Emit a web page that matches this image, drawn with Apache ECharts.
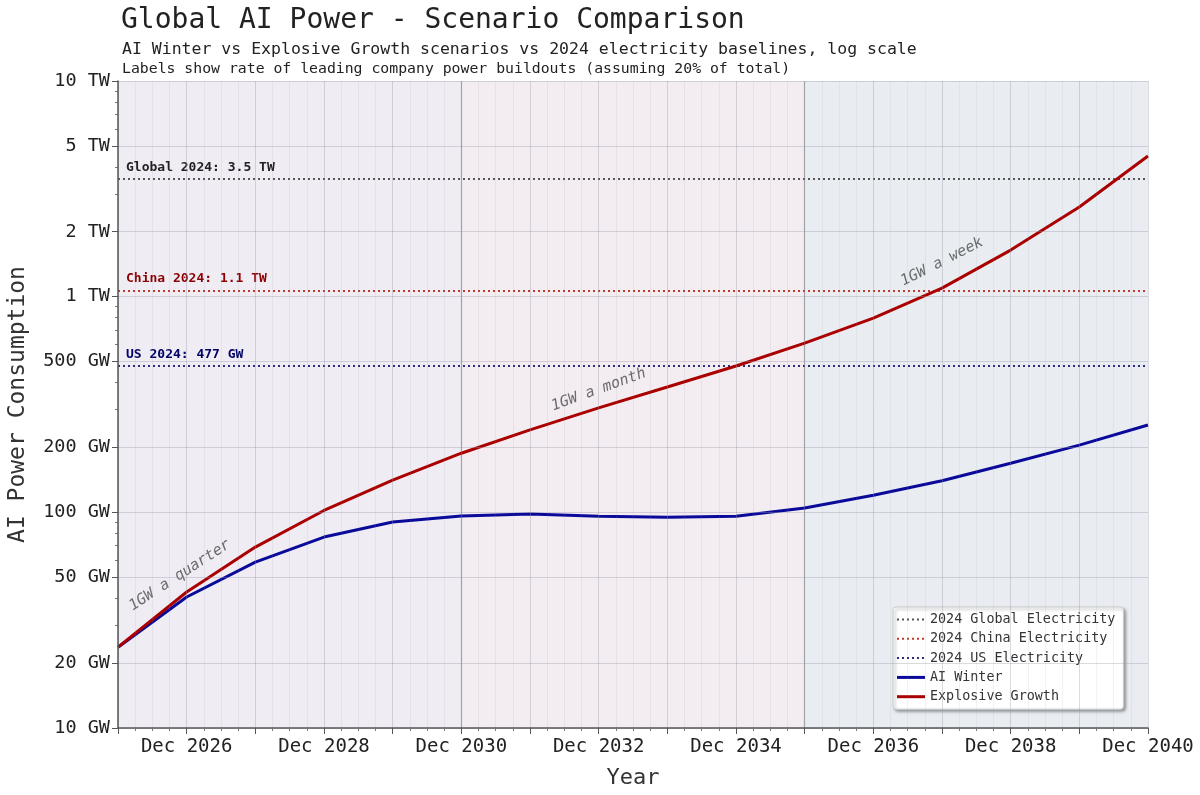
<!DOCTYPE html>
<html>
<head>
<meta charset="utf-8">
<script src="https://cdn.jsdelivr.net/npm/echarts@6/dist/echarts.min.js"></script>
<style>
  html, body { margin: 0; padding: 0; background: #fff; }
  #chart { width: 1200px; height: 795px; }
</style>
</head>
<body>
<div id="chart"></div>
<script>
// data (GW), one point per December
var years = [2025, 2026, 2027, 2028, 2029, 2030, 2031, 2032, 2033, 2034, 2035, 2036, 2037, 2038, 2039, 2040];
var explosive = [23.7, 42.7, 69, 102, 141, 188, 241, 305, 381, 477, 609, 796, 1096, 1644, 2603, 4490];
var aiWinter = [23.7, 40.5, 58.8, 76.8, 90.2, 96.1, 98.2, 96, 95, 96, 104.7, 120, 140, 169, 205, 254];

// 2024 electricity baselines (GW)
var baseNames = ['2024 Global Electricity', '2024 China Electricity', '2024 US Electricity'];
var baseLabels = ['Global 2024: 3.5 TW', 'China 2024: 1.1 TW', 'US 2024: 477 GW'];
var baseValues = [3510, 1070, 477];

// buildout rate labels [year, GW, text, angle]
var rateNotes = [
  [2025.9, 51, '1GW a quarter', 33],
  [2032.0, 370, '1GW a month', 20],
  [2037.0, 1450, '1GW a week', 27]
];

// period shading
var periods = [[2025, 2030], [2030, 2035], [2035, 2040]];
var periodColors = ['#efecf4', '#f3ecf0', '#e9edf2'];
var periodEdges = [2030, 2035];

// ticks
var yMajor = [10, 20, 50, 100, 200, 500, 1000, 2000, 5000, 10000];
var yMinor = [30, 40, 60, 70, 80, 90, 300, 400, 600, 700, 800, 900, 3000, 4000, 6000, 7000, 8000, 9000];
var xLabels = [2026, 2028, 2030, 2032, 2034, 2036, 2038, 2040];

var font = 'DejaVu Sans Mono';
var baseColors = ['#555555', '#c0392b', '#2c2c7a'];
var baseTextColors = ['#222222', '#8b0000', '#000066'];

// legend glyphs: dotted and solid line
var dottedIcon = 'path://M0,0h2v2h-2z M5,0h2v2h-2z M10,0h2v2h-2z M15,0h2v2h-2z M20,0h2v2h-2z M25,0h2v2h-2z M28,0h0v2h0z';
var solidIcon = 'path://M0,0h28v3h-28z';

function zip(xs, ys) {
  return xs.map(function (x, i) { return [x, ys[i]]; });
}
function fmtPower(v) {
  return v >= 1000 ? (v / 1000) + ' TW' : v + ' GW';
}

var chart = echarts.init(document.getElementById('chart'));

var series = [];
// shading + edges on a carrier series
series.push({
  type: 'line', data: [], silent: true,
  markArea: {
    silent: true,
    data: periods.map(function (p, i) {
      return [{ xAxis: p[0], itemStyle: { color: periodColors[i] } }, { xAxis: p[1] }];
    })
  },
  markLine: {
    silent: true, symbol: 'none', label: { show: false },
    lineStyle: { color: '#aaaaaa', width: 1.2, type: 'solid' },
    data: periodEdges.map(function (x) { return { xAxis: x }; })
  },
  z: 1
});

baseNames.forEach(function (name, i) {
  series.push({
    name: name, type: 'line', data: [], symbol: 'none',
    lineStyle: { color: baseColors[i], type: [2, 3], width: 1.8 },
    itemStyle: { color: baseColors[i] },
    markLine: {
      silent: true, symbol: 'none', animation: false,
      lineStyle: { color: baseColors[i], type: [2, 3], width: 1.8 },
      label: {
        show: true, position: 'insideStartTop', formatter: baseLabels[i],
        fontFamily: font, fontWeight: 'bold', fontSize: 13, color: baseTextColors[i],
        distance: [8, 5]
      },
      data: [{ yAxis: baseValues[i] }]
    },
    z: 3
  });
});

series.push({
  name: 'AI Winter', type: 'line', data: zip(years, aiWinter), symbol: 'none',
  lineStyle: { color: '#0a0a9a', width: 3 }, itemStyle: { color: '#0a0a9a' }, z: 5
});
series.push({
  name: 'Explosive Growth', type: 'line', data: zip(years, explosive), symbol: 'none',
  lineStyle: { color: '#aa0000', width: 3 }, itemStyle: { color: '#aa0000' }, z: 6
});

series.push({
  type: 'scatter', symbolSize: 0, silent: true, z: 7,
  data: rateNotes.map(function (n) {
    return {
      value: [n[0], n[1]],
      label: {
        show: true, position: 'inside', formatter: n[2], rotate: n[3],
        fontFamily: font, fontSize: 15, color: '#4a4a4a', fontStyle: 'italic'
      }
    };
  })
});

var legendData = baseNames.map(function (n) { return { name: n, icon: dottedIcon }; })
  .concat([{ name: 'AI Winter', icon: solidIcon }, { name: 'Explosive Growth', icon: solidIcon }]);

chart.setOption({
  animation: false,
  backgroundColor: '#ffffff',
  textStyle: { fontFamily: font },
  title: [
    { text: 'Global AI Power - Scenario Comparison', left: 116, top: 2,
      textStyle: { fontFamily: font, fontSize: 28, fontWeight: 'normal', color: '#222' } },
    { text: 'AI Winter vs Explosive Growth scenarios vs 2024 electricity baselines, log scale', left: 117, top: 36,
      textStyle: { fontFamily: font, fontSize: 16.5, fontWeight: 'normal', color: '#222' } },
    { text: 'Labels show rate of leading company power buildouts (assuming 20% of total)', left: 117, top: 57,
      textStyle: { fontFamily: font, fontSize: 14.8, fontWeight: 'normal', color: '#222' } }
  ],
  grid: { left: 118, right: 52, top: 81, bottom: 67, outerBoundsMode: 'none', containLabel: false },
  legend: {
    data: legendData,
    orient: 'vertical', left: 893, top: 607,
    padding: [6, 8, 6, 4], itemGap: 6.3, itemWidth: 28, itemHeight: 13,
    backgroundColor: '#ffffff', borderColor: '#cccccc', borderWidth: 1, borderRadius: 3,
    shadowColor: 'rgba(0,0,0,0.35)', shadowBlur: 3, shadowOffsetX: 2, shadowOffsetY: 2,
    textStyle: { fontFamily: font, fontSize: 13.4, color: '#333' }
  },
  xAxis: [{
    type: 'value', min: 2025, max: 2040, interval: 1,
    name: 'Year', nameLocation: 'middle', nameGap: 39,
    nameTextStyle: { fontFamily: font, fontSize: 22, color: '#333' },
    axisLine: { show: true, lineStyle: { color: '#555', width: 1.5 } },
    axisTick: { show: true, length: 6, lineStyle: { color: '#555' } },
    minorTick: { show: true, splitNumber: 4, length: 3, lineStyle: { color: '#777' } },
    axisLabel: {
      customValues: xLabels, fontFamily: font, fontSize: 19, color: '#222', margin: 10,
      formatter: function (v) { return 'Dec ' + v; }
    },
    splitLine: { show: true, lineStyle: { color: 'rgba(150,150,170,0.35)', width: 1 } },
    minorSplitLine: { show: true, lineStyle: { color: 'rgba(150,150,170,0.12)', width: 1 } },
    z: 10
  }],
  yAxis: [{
    type: 'log', logBase: 10, min: 10, max: 10000,
    name: 'AI Power Consumption', nameLocation: 'middle', nameGap: 88,
    nameTextStyle: { fontFamily: font, fontSize: 23, color: '#333' },
    axisLine: { show: true, lineStyle: { color: '#555', width: 1.5 } },
    axisTick: { show: true, customValues: yMajor, length: 6, lineStyle: { color: '#555' } },
    axisLabel: {
      customValues: yMajor, fontFamily: font, fontSize: 18.5, color: '#222', margin: 8,
      formatter: fmtPower
    },
    splitLine: { show: true, lineStyle: { color: 'rgba(150,150,170,0.35)', width: 1 } },
    z: 10
  }, {
    type: 'log', logBase: 10, min: 10, max: 10000, position: 'left',
    axisLine: { show: false },
    axisTick: { show: true, customValues: yMinor, length: 3, lineStyle: { color: '#777' } },
    axisLabel: { show: false },
    splitLine: { show: true, lineStyle: { color: 'rgba(150,150,170,0.15)', width: 1 } }
  }],
  series: series
});
</script>
</body>
</html>
